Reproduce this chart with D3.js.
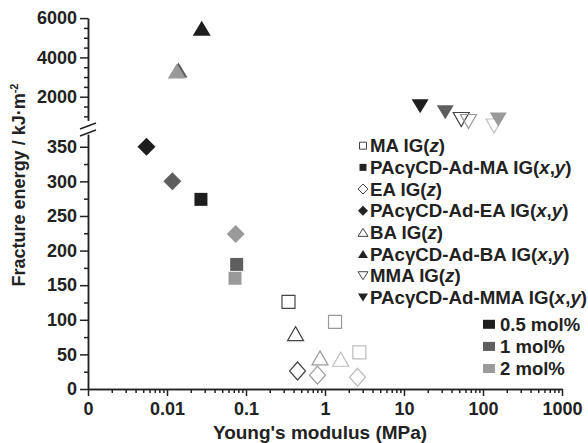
<!DOCTYPE html>
<html>
<head>
<meta charset="utf-8">
<script src="https://cdn.jsdelivr.net/npm/d3@7"></script>
<style>
  body { margin: 0; background: #fff; }
  svg text { font-family: "Liberation Sans", Arial, sans-serif; font-weight: bold; fill: #222; }
</style>
</head>
<body>
<div class="graphContainer"></div>
<script>
// Tick labels
const xTickValues = [0.001, 0.01, 0.1, 1, 10, 100, 1000];
const xTickLabels = ['0', '0.01', '0.1', '1', '10', '100', '1000'];
const yLowTicks = [0, 50, 100, 150, 200, 250, 300, 350];
const yUpTicks = [2000, 4000, 6000];

// Legend labels
const molLabels = ['0.5 mol%', '1 mol%', '2 mol%'];
const seriesNames = ['MA', 'PAcγCD-Ad-MA', 'EA', 'PAcγCD-Ad-EA', 'BA', 'PAcγCD-Ad-BA', 'MMA', 'PAcγCD-Ad-MMA'];

// Values, one point per mol% (0.5, 1, 2)
const maZModulus = [0.345, 1.34, 2.72];
const maZEnergy = [126, 97, 53];
const maXYModulus = [0.0269, 0.0762, 0.0726];
const maXYEnergy = [274, 180, 160];
const eaZModulus = [0.449, 0.803, 2.58];
const eaZEnergy = [26, 20, 17];
const eaXYModulus = [0.0055, 0.0117, 0.0741];
const eaXYEnergy = [350, 300, 224];
const baZModulus = [0.424, 0.865, 1.58];
const baZEnergy = [80, 45, 43];
const baXYModulus = [0.0275, 0.0140, 0.0133];
const baXYEnergy = [5480, 3360, 3310];
const mmaZModulus = [53, 65.5, 138];
const mmaZEnergy = [840, 740, 510];
const mmaXYModulus = [16.0, 33.3, 156];
const mmaXYEnergy = [1510, 1210, 840];

const W = 588, H = 443;
const fillColors = ['#1e1e1e', '#5e5e5e', '#9a9a9a'];
const openColors = ['#444', '#9a9a9a', '#bdbdbd'];

const svg = d3.select('.graphContainer').append('svg')
    .attr('width', W).attr('height', H);

// Scales
const x = d3.scaleLog().domain([0.001, 1000]).range([88, 562]);
const yLow = d3.scaleLinear().domain([0, 368]).range([389, 134.3]);
const yUp = d3.scaleLinear().domain([800, 6000]).range([120.3, 18.1]);
const yPos = v => v > 400 ? yUp(v) : yLow(v);

// Axes
const styleAxis = g => {
    g.selectAll('path, line').attr('stroke', '#222').attr('stroke-width', 1.5);
    g.selectAll('text').attr('font-size', 18).attr('fill', '#222');
};

const xMinor = [];
for (let e = -3; e < 3; e++) for (let k = 2; k < 10; k++) xMinor.push(k * Math.pow(10, e));

svg.append('g').attr('transform', 'translate(0,389)')
    .call(d3.axisBottom(x).tickValues(xMinor).tickSize(4).tickSizeOuter(0).tickFormat(''))
    .call(styleAxis);
svg.append('g').attr('transform', 'translate(0,389)')
    .call(d3.axisBottom(x).tickValues(xTickValues).tickSize(7).tickSizeOuter(0).tickPadding(6)
        .tickFormat((d, i) => xTickLabels[i]))
    .call(styleAxis);

svg.append('g').attr('transform', 'translate(88,0)')
    .call(d3.axisLeft(yLow).tickValues(d3.range(25, 368, 50)).tickSize(4).tickSizeOuter(0).tickFormat(''))
    .call(styleAxis);
svg.append('g').attr('transform', 'translate(88,0)')
    .call(d3.axisLeft(yLow).tickValues(yLowTicks).tickSize(8).tickSizeOuter(0).tickPadding(3))
    .call(styleAxis);

svg.append('g').attr('transform', 'translate(88,0)')
    .call(d3.axisLeft(yUp).tickValues([1000, 1500, 2500, 3000, 3500, 4500, 5000, 5500]).tickSize(4).tickSizeOuter(0).tickFormat(''))
    .call(styleAxis);
svg.append('g').attr('transform', 'translate(88,0)')
    .call(d3.axisLeft(yUp).tickValues(yUpTicks).tickSize(8).tickSizeOuter(0).tickPadding(3).tickFormat(d3.format('d')))
    .call(styleAxis);

// Axis break marks
[[129, 123], [136, 130]].forEach(([a, b]) => {
    svg.append('line').attr('x1', 80).attr('y1', a).attr('x2', 96).attr('y2', b)
        .attr('stroke', '#222').attr('stroke-width', 1.5);
});

// Axis titles
svg.append('text').attr('x', 320).attr('y', 439).attr('text-anchor', 'middle')
    .attr('font-size', 19).text("Young's modulus (MPa)");
const yTitle = svg.append('text').attr('transform', 'translate(25,185) rotate(-90)')
    .attr('text-anchor', 'middle').attr('font-size', 18);
yTitle.append('tspan').text('Fracture energy / kJ·m');
yTitle.append('tspan').attr('dy', -7).attr('font-size', 11).text('-2');

// Marker shapes
const shape = (type, w, h) => {
    if (type === 'square') return `M${-w / 2},${-h / 2}h${w}v${h}h${-w}Z`;
    if (type === 'diamond') return `M0,${-h / 2}L${w / 2},0L0,${h / 2}L${-w / 2},0Z`;
    if (type === 'up') return `M0,${-h / 2}L${w / 2},${h / 2}L${-w / 2},${h / 2}Z`;
    return `M${-w / 2},${-h / 2}L${w / 2},${-h / 2}L0,${h / 2}Z`;
};

const series = [
    { mod: maZModulus, en: maZEnergy, type: 'square', open: true, w: 13, h: 13 },
    { mod: maXYModulus, en: maXYEnergy, type: 'square', open: false, w: 13, h: 13 },
    { mod: eaZModulus, en: eaZEnergy, type: 'diamond', open: true, w: 16, h: 18 },
    { mod: eaXYModulus, en: eaXYEnergy, type: 'diamond', open: false, w: 18, h: 18 },
    { mod: baZModulus, en: baZEnergy, type: 'up', open: true, w: 16, h: 14 },
    { mod: baXYModulus, en: baXYEnergy, type: 'up', open: false, w: 18, h: 15 },
    { mod: mmaZModulus, en: mmaZEnergy, type: 'down', open: true, w: 16, h: 14 },
    { mod: mmaXYModulus, en: mmaXYEnergy, type: 'down', open: false, w: 17, h: 14 }
];

series.forEach(s => {
    svg.append('g').selectAll('path')
        .data(s.mod.map((m, i) => ({ m, e: s.en[i], i })))
        .enter().append('path')
        .attr('transform', d => `translate(${x(d.m)},${yPos(d.e)})`)
        .attr('d', shape(s.type, s.w, s.h))
        .attr('fill', d => s.open ? '#fff' : fillColors[d.i])
        .attr('fill-opacity', s.open ? 0 : 1)
        .attr('stroke', d => s.open ? openColors[d.i] : 'none')
        .attr('stroke-width', 1.2);
});

// Series legend
const legend = svg.append('g');
series.forEach((s, i) => {
    const cy = 145.7 + i * 21.67;
    const sw = s.type === 'square' ? 7 : 10;
    const sh = s.type === 'square' ? 7 : (s.type === 'diamond' ? 10 : 8);
    legend.append('path')
        .attr('transform', `translate(363,${cy})`)
        .attr('d', shape(s.type, sw, sh))
        .attr('fill', s.open ? '#fff' : '#222')
        .attr('stroke', s.open ? '#444' : 'none')
        .attr('stroke-width', 1);
    const t = legend.append('text').attr('x', 370).attr('y', cy).attr('dy', '0.35em').attr('font-size', 18.7);
    t.append('tspan').text(seriesNames[i] + ' IG(');
    if (s.open) {
        t.append('tspan').attr('font-style', 'italic').text('z');
    } else {
        t.append('tspan').attr('font-style', 'italic').text('x');
        t.append('tspan').text(',');
        t.append('tspan').attr('font-style', 'italic').text('y');
    }
    t.append('tspan').text(')');
});

// Mol% legend
molLabels.forEach((lab, i) => {
    const cy = 324.3 + i * 22.1;
    svg.append('rect').attr('x', 483).attr('y', cy - 4.5).attr('width', 12).attr('height', 9)
        .attr('fill', fillColors[i]);
    svg.append('text').attr('x', 500).attr('y', cy).attr('dy', '0.35em')
        .attr('font-size', 18.5).text(lab);
});
</script>
</body>
</html>
